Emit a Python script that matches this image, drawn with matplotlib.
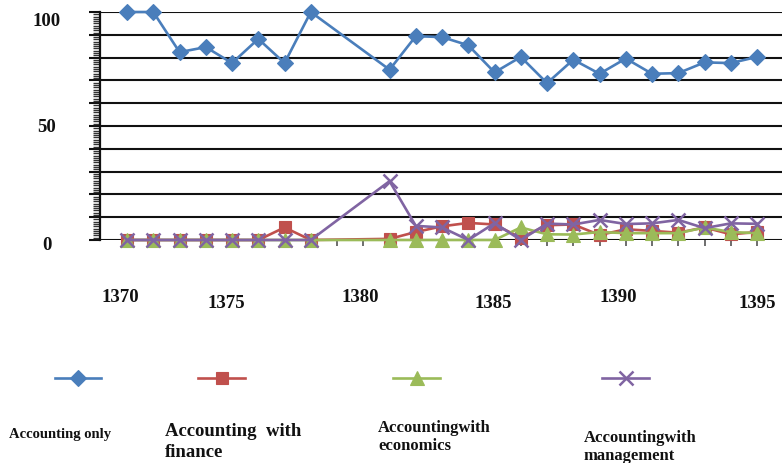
import matplotlib
matplotlib.use("Agg")
import matplotlib.pyplot as plt
import matplotlib.transforms as mtransforms
from matplotlib.lines import Line2D
import numpy as np

# ---------------- data ----------------
years = list(range(1370, 1395))          # category positions (1378, 1379 have no data)
accounting_only = [100, 100, 82.4, 84.6, 77.6, 88.2, 77.6, 100, None, None,
                   74.7, 89.4, 89.0, 85.4, 73.5, 80.3, 68.8, 79.1, 72.9, 79.6,
                   72.9, 73.2, 77.9, 77.6, 80.3]
acc_finance = [0, 0, 0, 0, 0, 0, 5.5, 0, None, None,
               0.5, 3.5, 6.0, 7.5, 6.8, 1.0, 6.5, 6.8, 2.2, 4.7,
               4.0, 3.2, 5.5, 2.5, 3.5]
acc_economics = [0, 0, 0, 0, 0, 0, 0, 0, None, None,
                 0, 0, 0, 0, 0, 5.5, 2.5, 2.4, 3.5, 3.0,
                 3.0, 3.0, 5.5, 3.5, 3.0]
acc_management = [0, 0, 0, 0, 0, 0, 0, 0, None, None,
                  25.8, 6.2, 5.5, 0, 7.4, 0, 7.2, 6.8, 8.8, 7.0,
                  7.3, 8.8, 5.2, 7.3, 7.1]
year_labels = ["1370", "1375", "1380", "1385", "1390", "1395"]
y_labels = ["0", "50", "100"]
series_names = ["Accounting only", "Accounting  with\nfinance",
                "Accountingwith\neconomics", "Accountingwith\nmanagement"]

# ---------------- styles ----------------
colors = ["#4A7EBB", "#C0504D", "#9BBB59", "#8064A2"]
markers = ["D", "s", "^", "x"]
msizes = [8.5, 9, 9.5, 10]

W, H = 782, 463
fig = plt.figure(figsize=(W / 100, H / 100), dpi=100)
ax = fig.add_axes([100 / W, 1 - 240 / H, (W - 100) / W, (240 - 12) / H])

x_idx = np.arange(len(years))
all_series = [accounting_only, acc_finance, acc_economics, acc_management]
for vals, c, m, ms in zip(all_series, colors, markers, msizes):
    xs = [x for x, v in zip(x_idx, vals) if v is not None]
    ys = [v for v in vals if v is not None]
    ax.plot(xs, ys, color=c, lw=1.9, marker=m, markersize=ms,
            markerfacecolor=c, markeredgecolor=c,
            markeredgewidth=1.8 if m == "x" else 0.8, zorder=3, clip_on=False)

ax.set_xlim(-1.03, 24.95)
ax.set_ylim(0, 100)

# grid
ax.set_yticks(np.arange(0, 101, 10))
ax.set_yticks(np.arange(0, 101, 1), minor=True)
ax.yaxis.grid(True, which="major", color="#111111", lw=1.5, zorder=1)
ax.tick_params(axis="y", which="major", length=8, width=1.5, color="#111111",
               labelleft=False)
ax.tick_params(axis="y", which="minor", length=5, width=1.0, color="#333333")

ax.set_xticks(x_idx)
ax.tick_params(axis="x", which="major", length=4, width=1.2, color="#555555",
               labelbottom=False)

for s in ["top", "right", "bottom"]:
    ax.spines[s].set_visible(False)
ax.spines["left"].set_linewidth(1.6)
ax.spines["left"].set_color("#111111")

# y labels (placed left of the axis)
tr = mtransforms.blended_transform_factory(fig.transFigure, ax.transData)
for lab, dy in zip(y_labels, [-5, -1, -10]):
    v = float(lab)
    ax.text(47 / W, v, lab,
            transform=tr + mtransforms.ScaledTranslation(0, dy / 100, fig.dpi_scale_trans),
            ha="center", va="center", fontsize=13.5, fontweight="bold",
            family="Liberation Serif", color="#111111")

# x labels (irregularly placed as in the source)
xlab_px = [(120, 297), (226, 304), (360, 297), (493, 304), (618, 297), (757, 304)]
for lab, (px, py) in zip(year_labels, xlab_px):
    fig.text(px / W, 1 - py / H, lab, ha="center", va="center",
             fontsize=13.5, fontweight="bold", family="Liberation Serif",
             color="#111111")

# legend row
leg_px = [(55, 101), (198, 245), (393, 440), (602, 649)]
for (x0, x1), c, m, ms in zip(leg_px, colors, markers, msizes):
    yy = 1 - 378 / H
    fig.add_artist(Line2D([x0 / W, x1 / W], [yy, yy], transform=fig.transFigure,
                          color=c, lw=1.9))
    fig.add_artist(Line2D([(x0 + x1) / 2 / W], [yy], transform=fig.transFigure,
                          color=c, marker=m, markersize=ms, markerfacecolor=c,
                          markeredgecolor=c,
                          markeredgewidth=1.8 if m == "x" else 0.8, lw=0))

label_specs = [((9, 428), 10.5, 1.0), ((165, 423), 13.5, 1.3),
               ((378, 420), 12, 1.2), ((584, 430), 12, 1.15)]
for name, ((px, py), fs, ls) in zip(series_names, label_specs):
    fig.text(px / W, 1 - py / H, name, ha="left", va="top", fontsize=fs,
             fontweight="bold", family="Liberation Serif", color="#111111",
             linespacing=ls)

fig.savefig("out.png", dpi=100)
